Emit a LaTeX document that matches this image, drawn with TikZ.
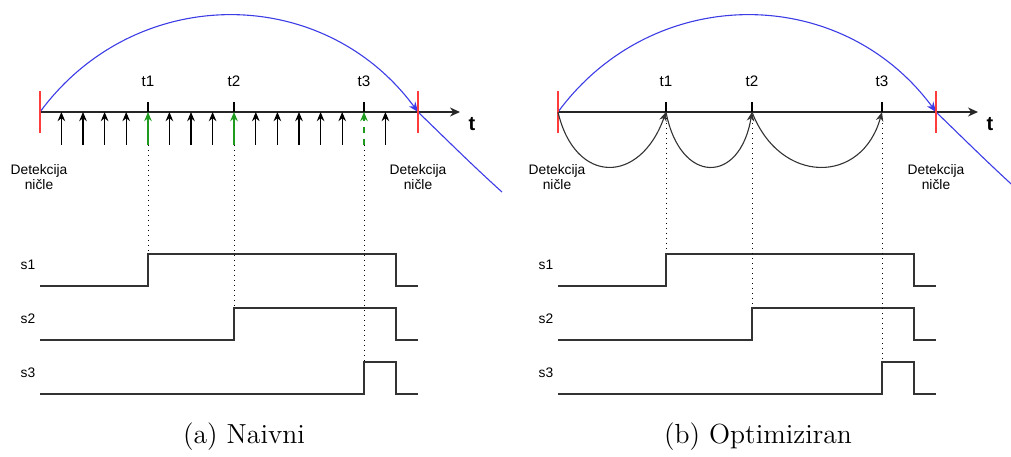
\documentclass[tikz,border=0pt]{standalone}
\usepackage{fontspec}
\newfontfamily\labelfont{Liberation Sans}
\usepackage{tikz}
\usetikzlibrary{arrows.meta}
\definecolor{zero}{HTML}{FF3B3B}
\definecolor{wave}{HTML}{3C3CE6}
\definecolor{hit}{HTML}{1E9A1E}
\definecolor{sig}{HTML}{333333}

\begin{document}
\begin{tikzpicture}[x=0.5pt,y=-0.5pt,
    every node/.style={font=\labelfont\fontsize{6.9}{7.6}\selectfont,inner sep=0pt},
    tlabel/.style={font=\labelfont\fontsize{7.6}{8.4}\selectfont},
    axislabel/.style={font=\labelfont\bfseries\fontsize{10}{11}\selectfont},
    caption/.style={font=\fontsize{13.8}{16}\selectfont},
    axis/.style={-{Stealth[length=5pt,width=4.5pt]},line width=0.6pt,black!85},
    sample/.style={-{Stealth[length=4.6pt,width=3.8pt]},line width=0.55pt},
    hop/.style={-{Stealth[length=4.6pt,width=3.8pt]},line width=0.55pt,black!80},
    zerotick/.style={zero,line width=0.6pt},
    guide/.style={dotted,line width=0.5pt},
    signal/.style={sig,line width=0.65pt}]
  \useasboundingbox (0,0) rectangle (1011,456);

  % both panels: axis, wave, ticks and signals
  \foreach \dx/\pn/\gy in {0/a/145,518/b/118}{
    \begin{scope}[xshift=\dx*0.5pt]
      \coordinate (\pn-z0) at (40,112);
      \coordinate (\pn-z1) at (418,112);
      \coordinate (\pn-end) at (460,112);
      \draw[axis] (\pn-z0) -- (\pn-end);
      \node[axislabel] (\pn-t) at (472,124) {t};
      \draw[wave,line width=0.55pt,-{Stealth[length=5pt,width=4pt]}]
        (\pn-z0) .. controls (135,-17) and (323,-17) .. (\pn-z1);
      \draw[wave,line width=0.55pt] (\pn-z1) .. controls (445,138) and (472,165) .. (502,192);
      \draw[zerotick] (40,91) -- (40,133);
      \draw[zerotick] (418,91) -- (418,133);
      \node[align=center] (\pn-d0) at (39,177) {Detekcija\\ničle};
      \node[align=center] (\pn-d1) at (418,177) {Detekcija\\ničle};
      \foreach \x/\i/\lo in {148/1/286,234/2/340,364/3/394}{
        \coordinate (\pn-t\i) at (\x,112);
        \draw[line width=0.55pt] (\x,102) -- (\pn-t\i);
        \node[tlabel] (\pn-l\i) at (\x,81) {t\i};
        \draw[guide] (\x,\gy) -- (\x,\lo-32);
        \node (\pn-s\i) at (28,\lo-21) {s\i};
        \draw[signal] (40,\lo) -- (\x,\lo) -- (\x,\lo-32) -- (396,\lo-32) -- (396,\lo) -- (418,\lo);
      }
    \end{scope}
  }

  % naive: sample every step
  \foreach \k in {0,1,2,3,5,6,7,9,10,11,12,13,15}
    \draw[sample] ({61.4+21.6*\k},145) -- ({61.4+21.6*\k},112);
  \draw[sample,hit] (148,145) -- (a-t1);
  \draw[sample,hit] (234,145) -- (a-t2);
  \draw[sample,hit,dashed] (364,145) -- (a-t3);

  % optimized: jump between events
  \begin{scope}[xshift=259pt]
    \draw[hop] (b-z0) .. controls (57,185) and (122,185) .. (b-t1);
    \draw[hop] (b-t1) .. controls (162,185) and (222,185) .. (b-t2);
    \draw[hop] (b-t2) .. controls (262,185) and (344,185) .. (b-t3);
  \end{scope}

  \node[caption] (capa) at (244,437) {(a) Naivni};
  \node[caption] (capb) at (758,437) {(b) Optimiziran};
\end{tikzpicture}
\end{document}
